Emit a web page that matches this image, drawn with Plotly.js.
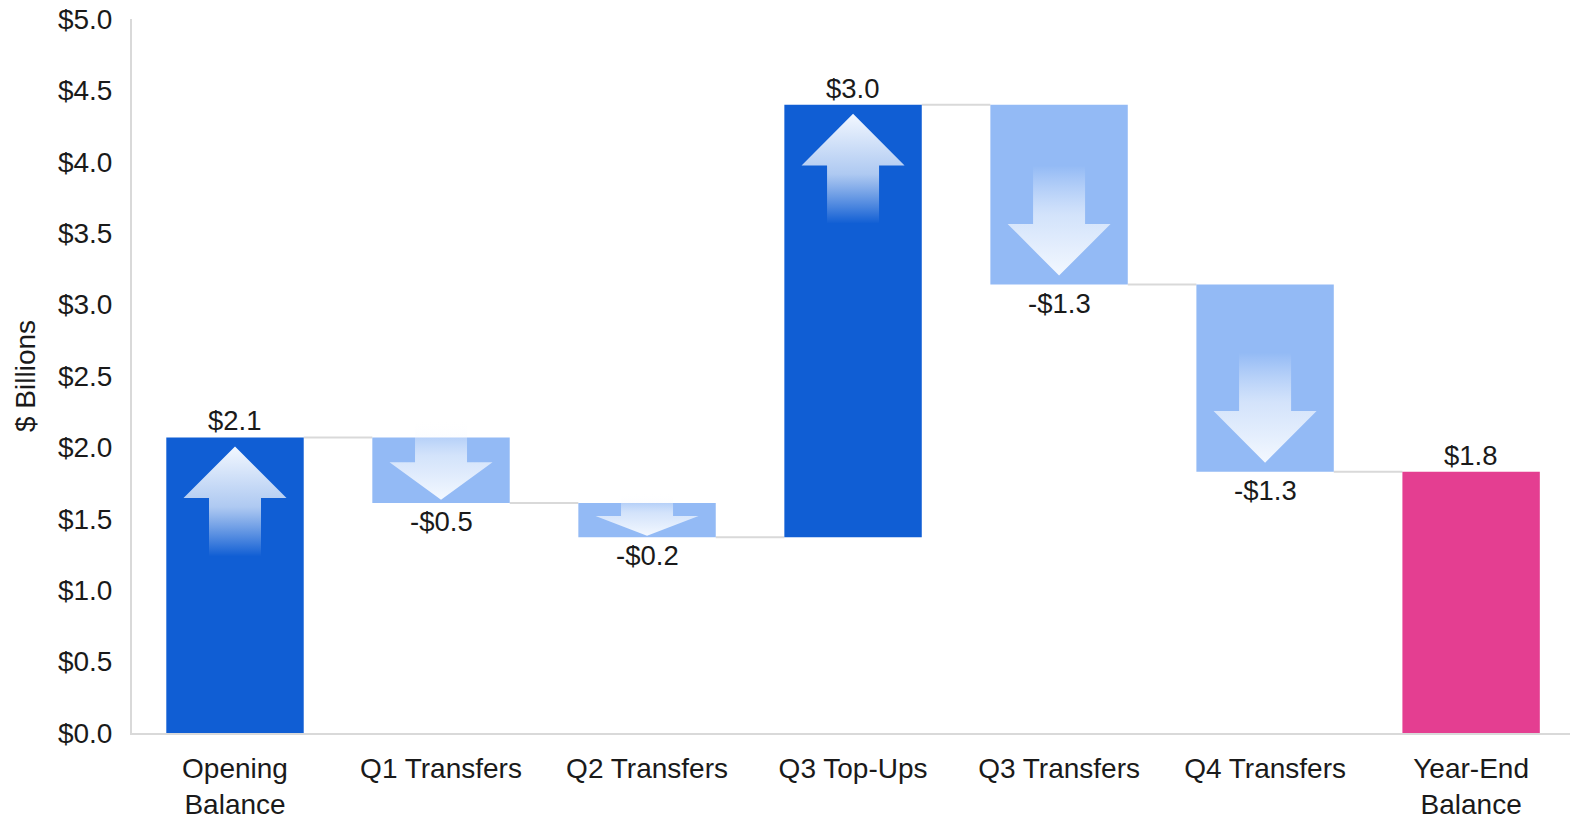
<!DOCTYPE html>
<html>
<head>
<meta charset="utf-8">
<script src="https://cdn.plot.ly/plotly-3.0.1.min.js"></script>
<style>
  html, body { margin: 0; padding: 0; background: #ffffff; }
  #chart { width: 1570px; height: 818px; }
</style>
</head>
<body>
<div id="chart"></div>
<script>
// ---- Data ----
const categories = ["Opening<br>Balance", "Q1 Transfers", "Q2 Transfers", "Q3 Top-Ups", "Q3 Transfers", "Q4 Transfers", "Year\u2011End<br>Balance"];
const openingBalance = 2.07;
const changes = [-0.46, -0.24, 3.03, -1.26, -1.31];
const closingBalance = 1.83;
const yTickValues = [0, 0.5, 1, 1.5, 2, 2.5, 3, 3.5, 4, 4.5, 5];

// ---- Styles / layout constants ----
const W = 1570, H = 818;
const M = { l: 132, r: 0, t: 19, b: 85 };
const FONT = "Liberation Sans, Arial, sans-serif";
const FS = 28;
const FS_LABEL = 27.5;
const TXT = "#1a1a1a";
const C_UP = "#105ed4", C_DOWN = "#93baf5", C_TOTAL = "#e43e91";
const BARGAP = 0.333;
const Y_RANGE = [0, 5];
const X_RANGE = [-0.5, categories.length - 0.52];

// ---- Build waterfall geometry from data ----
const bases = [], sizes = [], colors = [], kinds = [];
bases.push(0); sizes.push(openingBalance); colors.push(C_UP); kinds.push("up");
let level = openingBalance;
changes.forEach(d => {
  bases.push(level); sizes.push(d);
  colors.push(d >= 0 ? C_UP : C_DOWN); kinds.push(d >= 0 ? "up" : "down");
  level += d;
});
bases.push(0); sizes.push(closingBalance); colors.push(C_TOTAL); kinds.push("total");

const xs = categories.map((c, i) => i);
const ends = sizes.map((s, i) => bases[i] + s);

const traces = [{
  type: "bar",
  x: xs, y: sizes, base: bases,
  marker: { color: colors, line: { width: 0 } },
  hoverinfo: "skip",
  showlegend: false
}];

// px <-> data conversions
const plotW = W - M.l - M.r, plotH = H - M.t - M.b;
const pxX = plotW / (X_RANGE[1] - X_RANGE[0]);      // px per category
const pxY = plotH / (Y_RANGE[1] - Y_RANGE[0]);      // px per unit

// arrows (decorative, derived from bars)
const HEAD_W = 103 / pxX, SHAFT_W = 52 / pxX;
const upScale = [[0, "rgba(255,255,255,0)"], [0.45, "rgba(236,243,253,0.72)"], [1, "rgba(243,248,255,1)"]];
const downScale = [[0, "rgba(243,248,255,1)"], [0.55, "rgba(236,243,253,0.72)"], [1, "rgba(255,255,255,0)"]];

sizes.forEach((s, i) => {
  if (kinds[i] === "total") return;
  const hPx = Math.abs(s) * pxY;
  const Lpx = Math.min(110, 1.22 * hPx);
  const headPx = 0.47 * Lpx;
  const offPx = Math.min(9, 0.05 * hPx);
  const L = Lpx / pxY, head = headPx / pxY, off = offPx / pxY;
  const cx = xs[i];
  const up = s >= 0;
  const end = ends[i];
  const tip = up ? end - off : end + off;
  const dir = up ? -1 : 1;   // direction from tip towards tail
  const hb = tip + dir * head;
  const tail = tip + dir * L;
  const px = [cx, cx + HEAD_W / 2, cx + SHAFT_W / 2, cx + SHAFT_W / 2, cx - SHAFT_W / 2, cx - SHAFT_W / 2, cx - HEAD_W / 2, cx];
  const py = [tip, hb, hb, tail, tail, hb, hb, tip];
  traces.push({
    type: "scatter", mode: "lines", x: px, y: py,
    fill: "toself",
    fillgradient: { type: "vertical", colorscale: up ? upScale : downScale },
    line: { width: 0 },
    hoverinfo: "skip", showlegend: false
  });
});

// connectors
const shapes = [];
for (let i = 0; i < categories.length - 1; i++) {
  const lvl = ends[i];
  shapes.push({
    type: "line", xref: "x", yref: "y",
    x0: xs[i] + (1 - BARGAP) / 2, x1: xs[i + 1] - (1 - BARGAP) / 2,
    y0: lvl, y1: lvl,
    line: { color: "#d9d9d9", width: 2 }, layer: "below"
  });
}

// labels
function fmt(v) {
  const s = "$" + Math.abs(v).toFixed(1);
  return v < 0 ? "-" + s : s;
}
const annotations = sizes.map((s, i) => {
  const neg = s < 0;
  return {
    x: xs[i], y: ends[i], xref: "x", yref: "y",
    text: fmt(s), showarrow: false,
    yanchor: neg ? "top" : "bottom",
    yshift: -1,
    font: { family: FONT, size: FS_LABEL, color: TXT }
  };
});

const layout = {
  width: W, height: H,
  margin: M,
  paper_bgcolor: "#ffffff", plot_bgcolor: "#ffffff",
  font: { family: FONT, size: FS, color: TXT },
  bargap: BARGAP,
  showlegend: false,
  xaxis: {
    tickmode: "array", tickvals: xs, ticktext: categories,
    range: X_RANGE,
    showgrid: false, zeroline: false,
    showline: true, linecolor: "#d9d9d9", linewidth: 2,
    ticks: "", ticklabelstandoff: 9,
    tickfont: { family: FONT, size: FS, color: TXT },
    automargin: false, fixedrange: true
  },
  yaxis: {
    range: Y_RANGE,
    tickmode: "array", tickvals: yTickValues,
    ticktext: yTickValues.map(v => "$" + v.toFixed(1)),
    showgrid: false, zeroline: false,
    showline: true, linecolor: "#d9d9d9", linewidth: 2,
    ticks: "", ticklabelstandoff: 12,
    tickfont: { family: FONT, size: FS, color: TXT },
    title: { text: "$ Billions", font: { family: FONT, size: FS, color: TXT }, standoff: 14 },
    automargin: false, fixedrange: true
  },
  shapes: shapes,
  annotations: annotations
};

Plotly.newPlot("chart", traces, layout, { displayModeBar: false, staticPlot: true });
</script>
</body>
</html>
